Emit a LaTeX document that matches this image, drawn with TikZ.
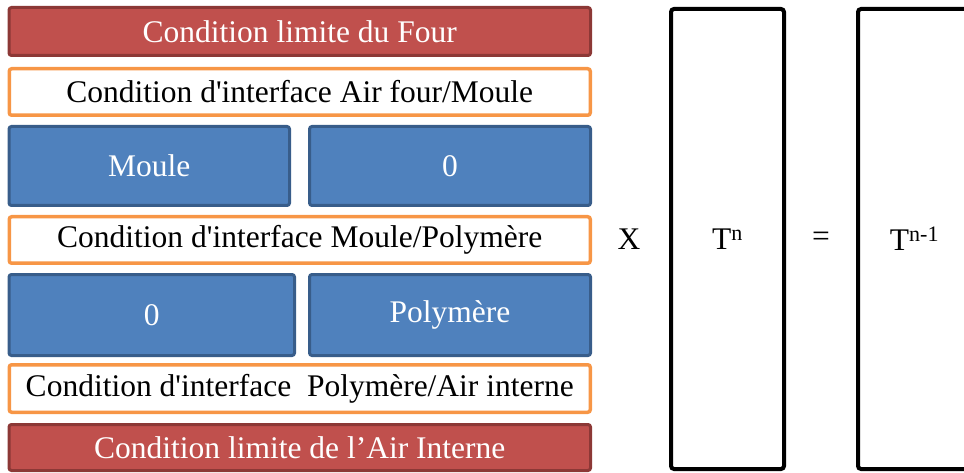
\documentclass[tikz,border=0pt]{standalone}
\usepackage{fontspec}
\setmainfont{Liberation Serif}
\usepackage{tikz}
\usetikzlibrary{positioning}
\definecolor{limred}{HTML}{C0504D}
\definecolor{limredline}{HTML}{8C3836}
\definecolor{cellblue}{HTML}{4F81BD}
\definecolor{cellblueline}{HTML}{385D8A}
\definecolor{ifaceorange}{HTML}{F79646}

\begin{document}
\begin{tikzpicture}[
  x=1pt, y=-1pt,
  font=\fontsize{31.5}{36}\selectfont,
  limbar/.style={draw=limredline, fill=limred, text=white, line width=3pt, rounded corners=2.5pt, inner sep=0pt, minimum width=581.5pt},
  ifacebar/.style={draw=ifaceorange, fill=white, line width=3.5pt, rounded corners=2.5pt, inner sep=0pt, minimum width=581pt},
  cell/.style={draw=cellblueline, fill=cellblue, text=white, line width=3pt, rounded corners=2.5pt, inner sep=0pt},
  vecbox/.style={draw=black, line width=4pt, rounded corners=3pt, inner sep=0pt, minimum width=113pt, minimum height=460pt}]
  \clip (0,0) rectangle (964,473);
  % left matrix
  \node[limbar, minimum height=48pt] (four) at (299.75,31.5) {Condition limite du Four};
  \node[ifacebar, minimum height=46.5pt] (ifaceA) at (299.75,92) {Condition d\textquotesingle interface Air four/Moule};
  \node[cell, minimum width=280.5pt, minimum height=79pt] (moule) at (149.25,166) {Moule};
  \node[cell, minimum width=281pt, minimum height=79pt] (zeroA) at (450,166) {0};
  \node[ifacebar, minimum height=46.5pt] (ifaceB) at (299.75,240) {Condition d\textquotesingle interface Moule/Polymère};
  \node[cell, minimum width=285.5pt, minimum height=81pt] (zeroB) at (151.75,315) {0};
  \node[cell, minimum width=281pt, minimum height=81pt] (poly) at (450,315) {Polymère};
  \node[ifacebar, minimum height=47.5pt] (ifaceC) at (299.75,388.5) {Condition d\textquotesingle interface\ \ Polymère/Air interne};
  \node[limbar, minimum height=46pt] (airint) at (299.75,447.5) {Condition limite de l’Air Interne};
  % vectors
  \node (times) at (629,239) {X};
  \node[vecbox] (tn) at (727.5,239) {T\textsuperscript{n}};
  \node (equals) at (821,239) {=};
  \node[vecbox] (tnm) at (914.5,239) {T\textsuperscript{n-1}};
\end{tikzpicture}
\end{document}
